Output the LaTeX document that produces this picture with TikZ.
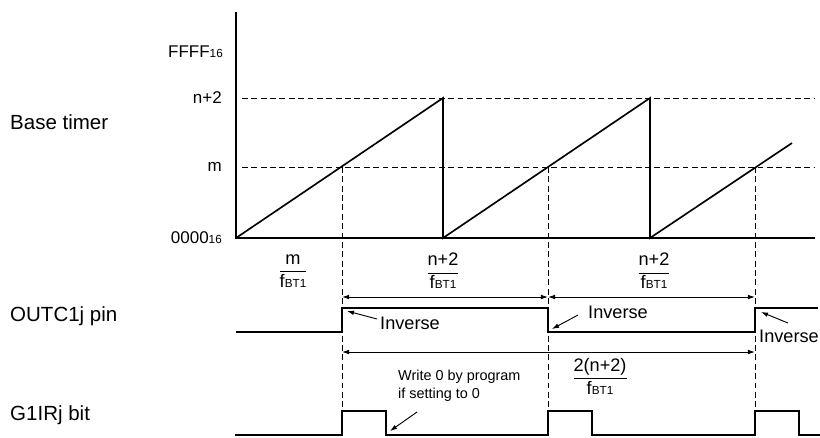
\documentclass[tikz,border=0pt]{standalone}
\usepackage{amsmath}
\usepackage{fontspec}
\setmainfont{Liberation Sans}
\usetikzlibrary{arrows.meta}

\newcommand{\fbt}{f{\fontsize{10}{10}\selectfont BT1}}
\newcommand{\hexsub}[1]{{\fontsize{10}{10}\selectfont #1}}

\begin{document}
\begin{tikzpicture}[
  x=0.03cm, y=-0.03cm,
  axis/.style={draw=black, line width=2.2pt},
  sig/.style={draw=black, line width=1.4pt, line join=miter},
  guide/.style={draw=black, line width=0.8pt, dash pattern=on 5pt off 3pt},
  dim/.style={{Latex[length=6pt,width=4pt]}-{Latex[length=6pt,width=4pt]}, line width=0.8pt},
  note/.style={-{Latex[length=6pt,width=4pt]}, line width=0.8pt},
  rowlabel/.style={anchor=west, font=\fontsize{17.5}{20}\selectfont, inner sep=0pt},
  ylabel/.style={anchor=east, font=\fontsize{14.5}{17}\selectfont, inner sep=0pt},
  inv/.style={anchor=west, font=\fontsize{15.5}{18}\selectfont, inner sep=0pt},
  frac/.style={font=\fontsize{15.5}{18}\selectfont, inner sep=0pt}
]
\useasboundingbox (0,0) rectangle (820,437);

% ---------- Base timer ----------
\node[rowlabel] (basetimer) at (10,122) {Base timer};

\coordinate (o)    at (236,238);
\coordinate (ytop) at (236,12);
\coordinate (xend) at (815,238);

\node[ylabel] (lffff) at (223,52)  {FFFF\hexsub{16}};
\node[ylabel] (ln2)   at (222,98)  {n+2};
\node[ylabel] (lm)    at (222,167) {m};
\node[ylabel] (l0000) at (222,238) {0000\hexsub{16}};

% compare levels
\coordinate (gn0) at (242,98);  \coordinate (gn1) at (815,98);
\coordinate (gm0) at (242,167); \coordinate (gm1) at (815,167);
\draw[guide] (gn0) -- (gn1);
\draw[guide] (gm0) -- (gm1);

% sawtooth
\coordinate (p1) at (443,98);  \coordinate (r1) at (443,238);
\coordinate (p2) at (650,98);  \coordinate (r2) at (650,238);
\coordinate (e3) at (792,143);
\draw[sig] (o) -- (p1) -- (r1) -- (p2) -- (r2) -- (e3);

\draw[axis] (ytop) -- (o) -- (xend);

% match points and their dashed drops
\coordinate (m1) at (342,167);
\coordinate (m2) at (548,167);
\coordinate (m3) at (755,167);
\draw[guide] (m1) -- (m1 |- 0,411);
\draw[guide] (m2) -- (m2 |- 0,411);
\draw[guide] (m3) -- (m3 |- 0,411);

% periods
\node[frac] (fracm)  at (293,271) {$\dfrac{\hbox{m}}{\hbox{\fbt}}$};
\node[frac] (fracn1) at (443,271) {$\dfrac{\hbox{n+2}}{\hbox{\fbt}}$};
\node[frac] (fracn2) at (654,271) {$\dfrac{\hbox{n+2}}{\hbox{\fbt}}$};

\coordinate (d1a) at (342,297); \coordinate (d1b) at (548,297);
\coordinate (d2b) at (755,297);
\draw[dim] (d1a) -- (d1b);
\draw[dim] (d1b) -- (d2b);

% ---------- OUTC1j pin ----------
\node[rowlabel] (outc) at (10,316) {OUTC1j pin};

\draw[sig] (236,332) -- (342,332) -- (342,308) -- (548,308) -- (548,332)
  -- (755,332) -- (755,308) -- (818,308);

\node[inv] (inv1) at (380,323) {Inverse};
\node[inv] (inv2) at (588,312) {Inverse};
\node[inv] (inv3) at (759,336) {Inverse};
\coordinate (i1a) at (377,319); \coordinate (i1b) at (347,311);
\coordinate (i2a) at (578,315); \coordinate (i2b) at (552,329);
\coordinate (i3a) at (788,323); \coordinate (i3b) at (761,312);
\draw[note] (i1a) -- (i1b);
\draw[note] (i2a) -- (i2b);
\draw[note] (i3a) -- (i3b);

\coordinate (d3a) at (342,352); \coordinate (d3b) at (755,352);
\draw[dim] (d3a) -- (d3b);
\node[frac] (frac2n) at (600,376) {$\dfrac{\hbox{2(n+2)}}{\hbox{\fbt}}$};

% ---------- G1IRj bit ----------
\node[rowlabel] (g1ir) at (10,415) {G1IRj bit};

\draw[sig] (235,435) -- (342,435) -- (342,411) -- (386,411) -- (386,435)
  -- (548,435) -- (548,411) -- (592,411) -- (592,435)
  -- (755,435) -- (755,411) -- (799,411) -- (799,435) -- (820,435);

\node[anchor=west, align=left, inner sep=0pt, font=\fontsize{12.3}{15.4}\selectfont] (write0) at (398,386)
  {Write 0 by program\\if setting to 0};
\coordinate (w0a) at (417,412); \coordinate (w0b) at (390,431);
\draw[note] (w0a) -- (w0b);

\end{tikzpicture}
\end{document}
